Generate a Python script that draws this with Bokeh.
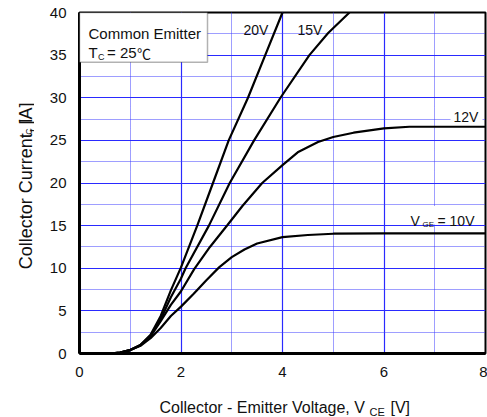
import math
from bokeh.plotting import figure
from bokeh.layouts import row, column
from bokeh.models import Range1d, FixedTicker, Label, BoxAnnotation
from bokeh.embed import file_html
from bokeh.resources import INLINE

# ---------------- data ----------------
vce_20 = [0.6, 0.8, 1.0, 1.2, 1.4, 1.6, 1.8, 2.0, 2.32, 2.63, 2.94, 3.32, 3.66, 4.0]
ic_20 = [0.0, 0.1, 0.4, 1.0, 2.2, 4.4, 7.4, 10.1, 15.0, 20.0, 25.0, 30.0, 35.0, 40.0]

vce_15 = [0.6, 0.8, 1.0, 1.2, 1.4, 1.6, 1.8, 2.0, 2.09, 2.55, 2.96, 3.44, 3.96, 4.53, 4.9, 5.32]
ic_15 = [0.0, 0.1, 0.4, 1.0, 2.1, 4.0, 6.6, 8.8, 10.0, 15.0, 20.0, 25.0, 30.0, 35.0, 37.6, 40.0]

vce_12 = [0.6, 0.8, 1.0, 1.2, 1.4, 1.6, 1.8, 2.0, 2.26, 2.57, 2.92, 3.21, 3.6, 4.0, 4.3, 4.7, 5.0, 5.4, 6.0, 6.5, 7.0, 8.0]
ic_12 = [0.0, 0.1, 0.4, 0.95, 2.0, 3.8, 5.7, 7.3, 9.9, 12.5, 15.1, 17.3, 20.0, 22.1, 23.6, 24.8, 25.4, 25.9, 26.4, 26.6, 26.6, 26.6]

vce_10 = [0.6, 0.8, 1.0, 1.2, 1.4, 1.6, 1.8, 2.0, 2.25, 2.5, 2.75, 3.0, 3.25, 3.5, 4.0, 4.5, 5.0, 6.0, 7.0, 8.0]
ic_10 = [0.0, 0.1, 0.4, 0.9, 1.8, 3.0, 4.4, 5.5, 7.0, 8.6, 10.1, 11.3, 12.2, 12.9, 13.65, 13.9, 14.05, 14.1, 14.1, 14.1]

x_ticks = [0, 2, 4, 6, 8]
x_minor = [1, 3, 5, 7]
y_ticks = [0, 5, 10, 15, 20, 25, 30, 35, 40]
y_minor = [2.5, 7.5, 12.5, 17.5, 22.5, 27.5, 32.5, 37.5]

curve_names = ["20V", "15V", "12V"]
# ----------------------------------------------------------------

FONT = "Liberation Sans"
TXT = "#111111"

YW = 34          # width of the strip that holds the y title
MAIN_H = 385     # height of main figure
XH = 417 - MAIN_H  # height of strip that holds the x title

p = figure(width=487 - YW, height=MAIN_H, x_range=Range1d(0, 8), y_range=Range1d(0, 40),
           output_backend="svg", toolbar_location=None,
           min_border_left=79 - YW, min_border_right=2, min_border_top=12,
           min_border_bottom=MAIN_H - 353)
p.background_fill_color = "white"
p.border_fill_color = "white"
p.outline_line_color = "black"
p.outline_line_width = 2

p.xaxis.ticker = FixedTicker(ticks=x_ticks, minor_ticks=x_minor)
p.yaxis.ticker = FixedTicker(ticks=y_ticks, minor_ticks=y_minor)
for ax in (p.xaxis, p.yaxis):
    ax.major_tick_line_color = None
    ax.minor_tick_line_color = None
    ax.major_tick_out = 0
    ax.major_tick_in = 0
    ax.minor_tick_out = 0
    ax.minor_tick_in = 0
    ax.axis_line_color = "black"
    ax.axis_line_width = 3
    ax.major_label_text_font = FONT
    ax.major_label_text_font_size = "15px"
    ax.major_label_text_color = TXT
p.yaxis.major_label_standoff = 13
p.xaxis.major_label_standoff = 13

for g in (p.xgrid, p.ygrid):
    g.grid_line_color = "#2a2aff"
    g.grid_line_width = 1.2
    g.minor_grid_line_color = "#3c3cff"
    g.minor_grid_line_width = 1
    g.minor_grid_line_dash = "1 1"

for xs, ys in ((vce_20, ic_20), (vce_15, ic_15), (vce_12, ic_12), (vce_10, ic_10)):
    p.line(xs, ys, line_color="black", line_width=2.2)

# reference-pixel -> data coordinate helpers for text placement inside the frame
X0, XS = 79.0, 406.0 / 8.0
Y0, YS = 353.0, 341.0 / 40.0


def dx(px):
    return (px - X0) / XS


def dy(py):
    return (Y0 - py) / YS


def mk(text, x, y, size, angle=0.0, font=FONT):
    return Label(x=x, y=y, text=text, text_font=font, text_font_size=f"{size}px",
                 text_color=TXT, text_baseline="alphabetic", text_align="left", angle=angle)


def lab(text, px, py, size, font=FONT):
    p.add_layout(mk(text, dx(px), dy(py), size, font=font))


# white backgrounds
p.add_layout(BoxAnnotation(left=0, right=dx(207), bottom=dy(61.7), top=40,
                           fill_color="white", fill_alpha=1.0,
                           line_color="black", line_width=1.5))
p.add_layout(BoxAnnotation(left=dx(450), right=dx(482), bottom=dy(120.5), top=dy(102),
                           fill_color="white", fill_alpha=1.0, line_alpha=0))
p.add_layout(BoxAnnotation(left=dx(407), right=dx(482), bottom=dy(224), top=dy(205.5),
                           fill_color="white", fill_alpha=1.0, line_alpha=0))

# box text
lab("Common Emitter", 88, 33.3, 15)
lab("T", 88, 52.3, 15)
lab("C", 97.5, 56.8, 9)
lab("= 25", 106.5, 52.3, 15)
lab("\u2103", 136.5, 52.8, 14, font="Noto Sans CJK JP")

# curve labels
lab(curve_names[0], 243, 29, 14)
lab(curve_names[1], 297, 29, 14)
lab(curve_names[2], 453, 116.7, 14)
lab("V", 410, 220.7, 14)
lab("GE", 422, 224, 8)
lab("= 10V", 437, 220.7, 14)


def strip(w, h):
    f = figure(width=w, height=h, x_range=Range1d(0, w), y_range=Range1d(0, h),
               output_backend="svg", toolbar_location=None,
               x_axis_type=None, y_axis_type=None,
               min_border_left=0, min_border_right=0, min_border_top=0, min_border_bottom=0)
    f.outline_line_color = None
    f.background_fill_color = "white"
    f.border_fill_color = "white"
    f.xgrid.visible = False
    f.ygrid.visible = False
    return f


# y title strip (page px coordinates, y measured from strip bottom)
ys_ = strip(YW, MAIN_H)
rot = math.pi / 2
ys_.add_layout(mk("Collector Current, I", 25, MAIN_H - 290, 18, rot))
ys_.add_layout(mk("C", 28.5, MAIN_H - 138, 9, rot))
ys_.add_layout(mk("[A]", 25, MAIN_H - 126.5, 18, rot))

# x title strip
xs_ = strip(487, XH)
xs_.add_layout(mk("Collector - Emitter Voltage, V", 159, 417 - 407, 16))
xs_.add_layout(mk("CE", 369, 417 - 411.3, 11))
xs_.add_layout(mk("[V]", 390, 417 - 407, 16))

layout = column(row(ys_, p, spacing=0), xs_, spacing=0)

open("out.html", "w").write(file_html(layout, INLINE))
